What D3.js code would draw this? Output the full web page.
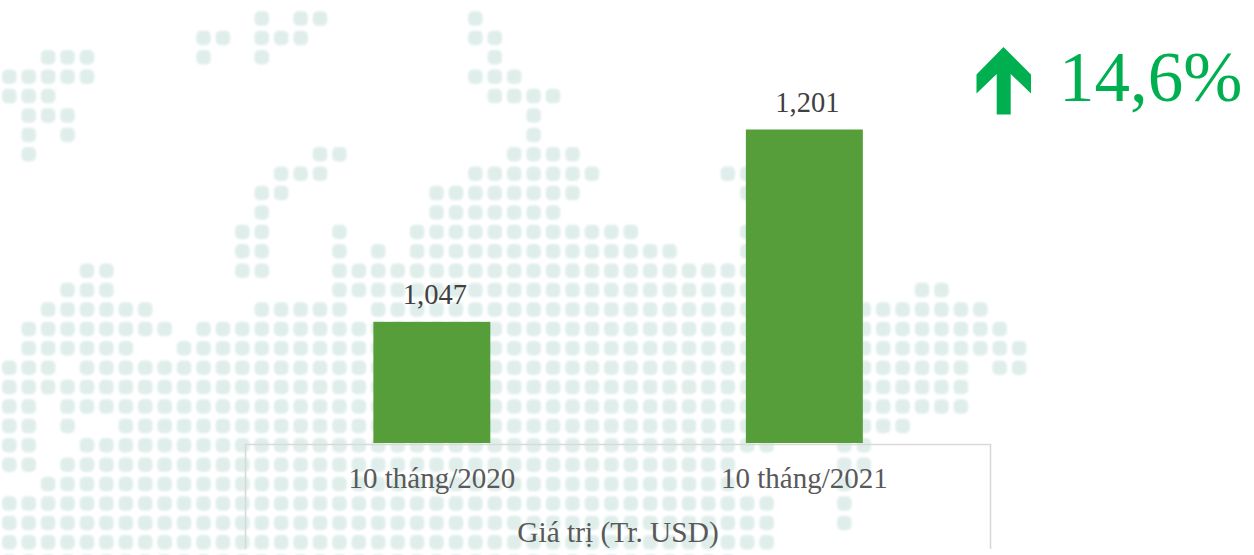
<!DOCTYPE html>
<html><head><meta charset="utf-8">
<style>html,body{margin:0;padding:0;background:#fff}svg{display:block}</style>
<script src="https://cdn.jsdelivr.net/npm/d3@7/dist/d3.min.js"></script>
</head><body>
<svg id="c" width="1254" height="555"></svg>
<script>
const categories = ["10 tháng/2020", "10 tháng/2021"];
const values = [1047, 1201];
const valueLabels = ["1,047", "1,201"];
const axisTitle = "Giá trị (Tr. USD)";
const changeLabel = "14,6%";
// Decorative dotted world-map backdrop: occupied column ranges, one entry per row
const mapRows = [
"13,15-16,24","10-11,13-15,24-25","2-4,10,13,25","0-4,24-26","0-2,25-28","1-3,27","1,3,27",
"1,16-17,26-29","14-16,24-30,37-38","13-14,22-29,38","13,22-28","12-13,17,21-32,38",
"12-13,17,19,21-34,38","4-5,12-13,17-38","3-5,17-38,47-48","2-7,13-17,19-50","1-8,10-51",
"1-6,9-52","0-2,4-49,51-52","0-49","0-1,3-49","0-1,3,6-46","0-1,4-39,43-44","0-1,3-37,43-44",
"2-37,43","0-39,43","0-39,43","0-39","0-37"
];

const svg = d3.select("#c");
const defs = svg.append("defs");
defs.append("filter").attr("id","soft").attr("x","-30%").attr("y","-30%").attr("width","160%").attr("height","160%")
  .append("feGaussianBlur").attr("stdDeviation",1.3);

// backdrop
const col = d3.scaleLinear().domain([0,1]).range([9.3,28.72]);
const row = d3.scaleLinear().domain([0,1]).range([18.5,37.9]);
const cells = [];
mapRows.forEach((s,r)=>s.split(",").forEach(part=>{
  const [a,b] = part.split("-").map(Number);
  d3.range(a,(b===undefined?a:b)+1).forEach(c=>cells.push({r,c}));
}));
const dot = 14.5;
svg.append("g").attr("filter","url(#soft)").selectAll("rect").data(cells).join("rect")
  .attr("x",d=>col(d.c)-dot/2).attr("y",d=>row(d.r)-dot/2)
  .attr("width",dot).attr("height",dot).attr("rx",5)
  .attr("fill","#dfeeeb");

// scales
const x = d3.scaleBand().domain(categories).range([245.6,990.6]).paddingInner(0.686).paddingOuter(0.343);
const y = d3.scaleLinear().domain([950,1250]).range([443,68.3]);

// frame (open at the bottom)
svg.append("path")
  .attr("d",`M245.5,549V444.5H990.5V549`)
  .attr("fill","none").attr("stroke","#d9d9d9").attr("stroke-width",1.6);

// bars
svg.append("g").selectAll("rect").data(values).join("rect")
  .attr("x",(d,i)=>x(categories[i])).attr("width",x.bandwidth())
  .attr("y",d=>y(d)).attr("height",d=>y.range()[0]-y(d))
  .attr("fill","#559e39");

const serif = '"Liberation Serif","Times New Roman",serif';
svg.append("g").selectAll("text").data(values).join("text")
  .attr("x",(d,i)=>x(categories[i])+x.bandwidth()/2+3).attr("y",d=>y(d)-18)
  .attr("text-anchor","middle").attr("font-family",serif).attr("font-size",28.5).attr("fill","#404040")
  .text((d,i)=>valueLabels[i]);

// category axis
const ax = svg.append("g").attr("transform","translate(0,453)")
  .call(d3.axisBottom(x).tickSize(0).tickPadding(0));
ax.select(".domain").remove();
ax.selectAll("text").attr("y",35).attr("dy",0).attr("font-family",serif).attr("font-size",29).attr("fill","#595959");

svg.append("text").attr("x",618).attr("y",542).attr("text-anchor","middle")
  .attr("font-family",serif).attr("font-size",29.4).attr("fill","#595959").text(axisTitle);

// change indicator
svg.append("path")
  .attr("d","M1003.5,47L1031,74.5V93.5L1010.7,74V114.5H996.7V74L976.5,93.5V74.5Z")
  .attr("fill","#00b050");
svg.append("text").attr("x",1059).attr("y",101)
  .attr("font-family",serif).attr("font-size",71).attr("fill","#00b050").text(changeLabel);
</script>
</body></html>
